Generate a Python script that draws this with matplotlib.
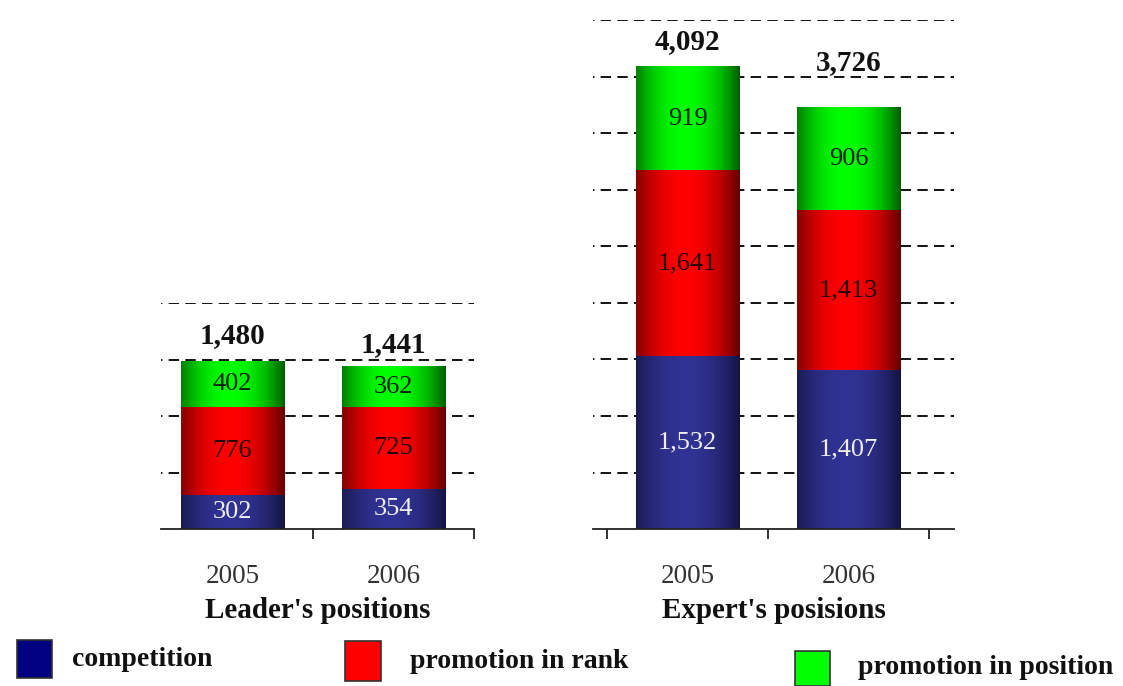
import numpy as np
import matplotlib
matplotlib.use("Agg")
import matplotlib.pyplot as plt
from matplotlib.patches import Rectangle

plt.rcParams['font.family'] = ['Liberation Serif', 'DejaVu Serif']
plt.rcParams['lines.scale_dashes'] = False

# data
years = ["2005", "2006"]
series = ["competition", "promotion in rank", "promotion in position"]
leader_competition = [302, 354]
leader_rank = [776, 725]
leader_position = [402, 362]
expert_competition = [1532, 1407]
expert_rank = [1641, 1413]
expert_position = [919, 906]
leader_title = "Leader's positions"
expert_title = "Expert's posisions"

# edge / centre colours of the shaded bars
shades = [((0.08, 0.08, 0.26), (0.19, 0.20, 0.58)),
          ((0.38, 0.00, 0.00), (1.00, 0.00, 0.00)),
          ((0.00, 0.36, 0.00), (0.00, 1.00, 0.00))]
flat = ["#000080", "#ff0000", "#00ff00"]
text_cols = ["#eeeeee", "#220000", "#062006"]

W, H = 1123, 686
PX = 0.113  # pixels per unit on both panels
BASE = 529


def gradient(edge, centre, n=200):
    t = np.linspace(0, 1, n)
    f = 1 - np.clip(np.abs((t - 0.47) / 0.53), 0, 1) ** 2.0
    edge, centre = np.array(edge), np.array(centre)
    img = edge[None, :] + (centre - edge)[None, :] * f[:, None]
    return img[None, :, :]


def panel(left, width, ymax, xlim, ticks, stacks, title, pads):
    ax = fig.add_axes([left / W, (H - BASE) / H, width / W, ymax * PX / H])
    x = np.arange(len(years))
    bottom = np.zeros(len(years))
    for k, vals in enumerate(stacks):
        bars = ax.bar(x, vals, bottom=bottom, width=0.64, color='none',
                      linewidth=0, zorder=3)
        img = gradient(*shades[k])
        for b, v in zip(bars, vals):
            bx, by = b.get_x(), b.get_y()
            ax.imshow(img, extent=[bx, bx + b.get_width(), by, by + b.get_height()],
                      aspect='auto', interpolation='bilinear', zorder=2)
            ax.text(bx + b.get_width() / 2, by + v / 2, f"{v:,}",
                    ha='center', va='center', fontsize=19, color=text_cols[k], zorder=4)
        bottom = bottom + np.array(vals)
    for xi, tot, p in zip(x, bottom, pads):
        ax.annotate(f"{int(tot):,}", (xi, tot), xytext=(0, p), textcoords='offset pixels',
                    ha='center', va='center', fontsize=21, fontweight='bold', color='#111111')

    ax.set_xlim(*xlim)
    ax.set_ylim(0, ymax)
    ax.set_yticks(np.arange(500, ymax + 1, 500))
    ax.yaxis.grid(True, color='#111111', linewidth=1.4, linestyle=(6.5, (7.5, 4.5)))
    ax.set_axisbelow(True)
    ax.tick_params(axis='y', length=0, labelleft=False)
    ax.set_xticks(ticks)
    ax.set_xticklabels([])
    ax.tick_params(axis='x', which='major', direction='out', length=7.5, width=1.3, color='#222222')
    ax.set_xticks(x, labels=years, minor=True)
    ax.tick_params(axis='x', which='minor', length=0, pad=25, labelsize=19.5, labelcolor='#333333')
    for s in ['left', 'right', 'top']:
        ax.spines[s].set_visible(False)
    ax.spines['bottom'].set_linewidth(1.3)
    ax.spines['bottom'].set_color('#222222')
    ax.set_xlabel(title, fontsize=21, fontweight='bold', color='#111111', labelpad=6)
    ax.set_facecolor('none')
    return ax


fig = plt.figure(figsize=(W / 100, H / 100), dpi=100)

panel(161, 313, 2000, (-0.444, 1.5), [0.5, 1.5],
      [leader_competition, leader_rank, leader_position], leader_title, [26, 22])
panel(593, 361, 4500, (-0.587, 1.655), [-0.5, 0.5, 1.5],
      [expert_competition, expert_rank, expert_position], expert_title, [25, 45])

# legend along the bottom
lg = fig.add_axes([0, 0, 1, 1])
lg.set_xlim(0, W)
lg.set_ylim(H, 0)
lg.axis('off')
boxes = [(17, 640, 35, 38), (345, 641, 36, 40), (795, 651, 35, 35)]
labels_at = [(72, 660), (410, 662), (858, 668)]
for name, col, (bx, by, bw, bh), (tx, ty) in zip(series, flat, boxes, labels_at):
    lg.add_patch(Rectangle((bx, by), bw, bh, facecolor=col, edgecolor='#333333', linewidth=1.2))
    lg.text(tx, ty, name, ha='left', va='center', fontsize=20, fontweight='bold', color='#111111')

fig.savefig("out.png", dpi=100)
